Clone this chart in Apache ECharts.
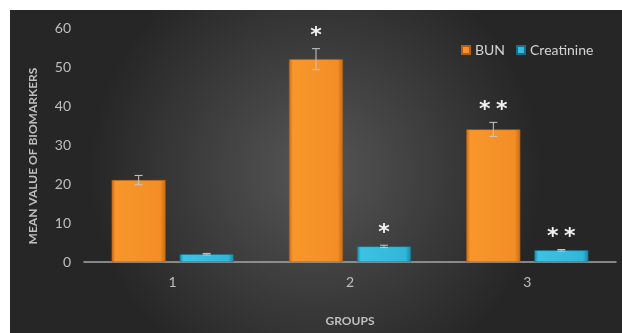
<!DOCTYPE html>
<html><head><meta charset="utf-8">
<script src="https://cdn.jsdelivr.net/npm/echarts@6/dist/echarts.min.js"></script>
<style>html,body{margin:0;padding:0;background:#fff;}#c{width:622px;height:333px;}</style>
</head><body><div id="c"></div>
<script>
var categories = ['1', '2', '3'];
var bunValues = [21, 52, 34];
var bunErrors = [1.2, 2.7, 1.8];
var bunSig = ['', '*', '**'];
var creatValues = [2, 4, 3];
var creatErrors = [0.2, 0.3, 0.2];
var creatSig = ['', '*', '**'];
var yTicks = [0, 10, 20, 30, 40, 50, 60];

var chart = echarts.init(document.getElementById('c'));
var FONT = 'Lato';
function barGrad(c0, c1, c2, c3) {
  return new echarts.graphic.LinearGradient(0, 0, 1, 0, [
    {offset: 0, color: c0}, {offset: 0.07, color: c1}, {offset: 0.9, color: c2}, {offset: 1, color: c3}
  ]);
}
function errSeries(vals, errs, sig, offset) {
  return {
    type: 'custom', z: 5, silent: true,
    data: vals.map(function (v, i) { return [i, v, errs[i]]; }),
    renderItem: function (params, api) {
      var i = api.value(0), v = api.value(1), e = api.value(2);
      var s = sig[i];
      var top = api.coord([i, v + e]);
      var bot = api.coord([i, v - e]);
      var x = top[0] + offset;
      var cap = 4;
      var ls = {stroke: '#c8c8c8', lineWidth: 1};
      var children = [
        {type: 'line', shape: {x1: x, y1: top[1], x2: x, y2: bot[1]}, style: ls},
        {type: 'line', shape: {x1: x - cap, y1: top[1], x2: x + cap, y2: top[1]}, style: ls},
        {type: 'line', shape: {x1: x - cap, y1: bot[1], x2: x + cap, y2: bot[1]}, style: ls}
      ];
      var n = s.length;
      for (var j = 0; j < n; j++) {
        children.push({type: 'text', style: {text: s.charAt(j), x: x + (j - (n - 1) / 2) * 17, y: top[1] - 12,
          align: 'center', verticalAlign: 'middle',
          fill: '#f2f2f2', font: 'bold 22px "DejaVu Sans"'}});
      }
      return {type: 'group', children: children};
    }
  };
}
chart.setOption({
  animation: false,
  graphic: [{
    type: 'rect', z: -10, shape: {x: 10, y: 10, width: 612, height: 323},
    style: {fill: new echarts.graphic.RadialGradient(0.5, 0.5, 0.7, [
      {offset: 0, color: '#565656'}, {offset: 1, color: '#262626'}
    ])}
  }],
  grid: {left: 84, right: 6, top: 28, bottom: 71},
  legend: {
    left: 456, top: 38, itemWidth: 8, itemHeight: 8, itemGap: 11, icon: 'rect',
    textStyle: {color: '#d4d4d4', fontSize: 14, fontFamily: FONT},
    data: ['BUN', 'Creatinine']
  },
  xAxis: {
    type: 'category', data: categories,
    name: 'GROUPS', nameLocation: 'middle', nameGap: 53,
    nameTextStyle: {color: '#bfbfbf', fontSize: 12, fontWeight: 'bold', fontFamily: FONT},
    axisLine: {lineStyle: {color: '#a6a6a6', width: 1.5}},
    axisTick: {show: false},
    axisLabel: {color: '#bfbfbf', fontSize: 14, fontFamily: FONT, margin: 13}
  },
  yAxis: {
    type: 'value', min: yTicks[0], max: yTicks[yTicks.length - 1], interval: 10,
    name: 'MEAN VALUE OF BIOMARKERS', nameLocation: 'middle', nameGap: 45,
    nameTextStyle: {color: '#bfbfbf', fontSize: 12, fontWeight: 'bold', fontFamily: FONT, padding: [0, 22, 0, 0]},
    axisLine: {show: false}, axisTick: {show: false}, splitLine: {show: false},
    axisLabel: {color: '#bfbfbf', fontSize: 14, fontFamily: FONT, margin: 13}
  },
  series: [
    {name: 'BUN', type: 'bar', data: bunValues, barWidth: 54, barGap: '26%',
      itemStyle: {color: barGrad('#c96a14', '#f8962c', '#f28e25', '#c96a14'), borderColor: '#b35e10', borderWidth: 0.5}},
    {name: 'Creatinine', type: 'bar', data: creatValues, barWidth: 54,
      itemStyle: {color: barGrad('#1a86a6', '#3cc3e4', '#30b6d8', '#1a86a6'), borderColor: '#15708c', borderWidth: 0.5}},
    errSeries(bunValues, bunErrors, bunSig, -34),
    errSeries(creatValues, creatErrors, creatSig, 34)
  ]
});
</script></body></html>
